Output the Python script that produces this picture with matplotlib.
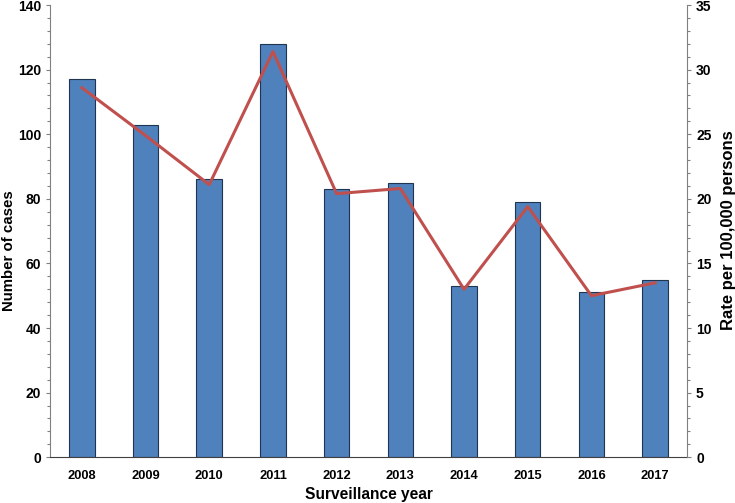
import matplotlib
matplotlib.use("Agg")
import matplotlib.pyplot as plt
from matplotlib.ticker import MultipleLocator

years = ["2008", "2009", "2010", "2011", "2012", "2013", "2014", "2015", "2016", "2017"]
cases = [117, 103, 86, 128, 83, 85, 53, 79, 51, 55]
rates = [28.6, 24.9, 21.1, 31.4, 20.4, 20.8, 13.0, 19.4, 12.5, 13.5]

plt.rcParams["font.family"] = ["Liberation Sans", "DejaVu Sans"]
plt.rcParams["font.weight"] = "bold"

fig = plt.figure(figsize=(7.35, 5.03), dpi=100)
ax = fig.add_axes([0.068, 0.091, 0.8667, 0.899])
x = list(range(len(years)))

ax.bar(x, cases, width=0.4, color="#4F81BD", edgecolor="#1F3550", linewidth=0.8, zorder=2)
ax.set_xlim(-0.5, len(years) - 0.5)
ax.set_ylim(0, 140)
ax.yaxis.set_major_locator(MultipleLocator(20))
ax.yaxis.set_minor_locator(MultipleLocator(4))
ax.set_xticks(x)
ax.set_xticklabels(years, fontsize=9.3, fontweight="bold")
ax.tick_params(axis="x", length=0, pad=9)
ax.tick_params(axis="y", which="major", direction="out", length=3, width=0.8,
               color="#808080", labelsize=10, pad=3.5)
ax.tick_params(axis="y", which="minor", direction="out", length=2.5, width=0.8, color="#808080")
for lab in ax.get_yticklabels():
    lab.set_fontweight("bold")
ax.set_ylabel("Number of cases", fontsize=10.8, fontweight="bold")
ax.yaxis.set_label_coords(-0.053, 0.456)
ax.set_xlabel("Surveillance year", fontsize=11.2, fontweight="bold", labelpad=4)

ax.spines["top"].set_visible(False)
ax.spines["right"].set_visible(False)
ax.spines["left"].set_color("#808080")
ax.spines["bottom"].set_color("#404040")

ax2 = ax.twinx()
ax2.plot(x, rates, color="#C0504D", linewidth=2.2, zorder=3)
ax2.set_ylim(0, 35)
ax2.yaxis.set_major_locator(MultipleLocator(5))
ax2.yaxis.set_minor_locator(MultipleLocator(1))
ax2.tick_params(axis="y", which="major", direction="out", length=3, width=0.8,
                color="#808080", labelsize=10, pad=3.5)
ax2.tick_params(axis="y", which="minor", direction="out", length=2.5, width=0.8, color="#808080")
for lab in ax2.get_yticklabels():
    lab.set_fontweight("bold")
ax2.set_ylabel("Rate per 100,000 persons", fontsize=12, fontweight="bold")
ax2.yaxis.set_label_coords(1.054, 0.502)
for s in ["top", "left", "bottom"]:
    ax2.spines[s].set_visible(False)
ax2.spines["right"].set_color("#808080")

fig.savefig("out.png", dpi=100)
